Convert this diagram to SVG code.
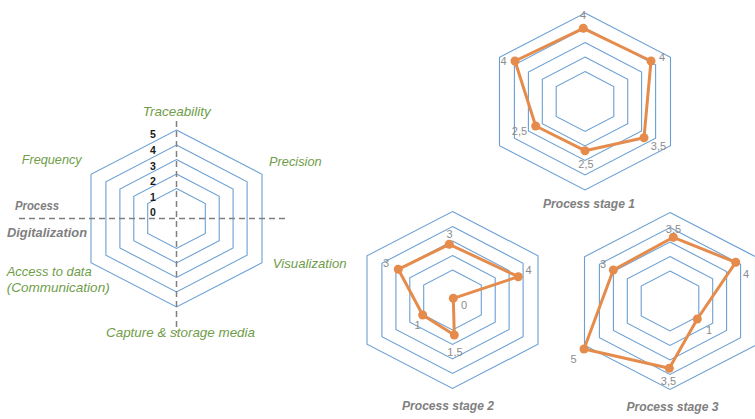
<svg xmlns="http://www.w3.org/2000/svg" width="755" height="419" viewBox="0 0 755 419">
<style>
.ring{fill:none;stroke:#6b9fd3;stroke-width:1.1}
.axis{fill:#6f9d4a;font-family:"Liberation Sans",Arial,sans-serif;font-style:italic;font-size:13px}
.dim{fill:#808080;font-family:"Liberation Sans",Arial,sans-serif;font-style:italic;font-weight:bold;font-size:12.5px}
.scale{fill:#1a1a1a;font-family:"Liberation Sans",Arial,sans-serif;font-weight:bold;font-size:10.5px;text-anchor:middle}
.dash{stroke:#808080;stroke-width:1.5;stroke-dasharray:6 4;fill:none}
.series{fill:none;stroke:#e58b4c;stroke-width:3;stroke-linejoin:round}
.dot{fill:#e58b4c}
.val{fill:#8c8c8c;font-family:"Liberation Sans",Arial,sans-serif;font-size:11px;text-anchor:middle}
.title{fill:#808080;font-family:"Liberation Sans",Arial,sans-serif;font-style:italic;font-weight:bold;font-size:12px;text-anchor:middle}
</style>
<defs>
<g id="grid">
<polygon class="ring" points="0,-30 28.8,-15 28.8,15 0,30 -28.8,15 -28.8,-15"/>
<polygon class="ring" points="0,-44.5 42.7,-22.25 42.7,22.25 0,44.5 -42.7,22.25 -42.7,-22.25"/>
<polygon class="ring" points="0,-59 56.6,-29.5 56.6,29.5 0,59 -56.6,29.5 -56.6,-29.5"/>
<polygon class="ring" points="0,-73.5 70.6,-36.75 70.6,36.75 0,73.5 -70.6,36.75 -70.6,-36.75"/>
<polygon class="ring" points="0,-88.5 85.5,-44.25 85.5,44.25 0,88.5 -85.5,44.25 -85.5,-44.25"/>
</g>
</defs>
<rect width="755" height="419" fill="#ffffff"/>

<g id="framework">
<use href="#grid" x="176.5" y="218.5"/>
<line class="dash" x1="176.5" y1="121" x2="176.5" y2="333"/>
<line class="dash" x1="19" y1="218.5" x2="287" y2="218.5"/>
<text class="scale" x="153" y="138">5</text>
<text class="scale" x="153" y="154">4</text>
<text class="scale" x="153" y="169.5">3</text>
<text class="scale" x="153" y="185">2</text>
<text class="scale" x="153" y="200.5">1</text>
<text class="scale" x="153" y="216">0</text>
<text class="axis" x="142.7" y="116" textLength="68" lengthAdjust="spacingAndGlyphs">Traceability</text>
<text class="axis" x="21.7" y="164" textLength="60" lengthAdjust="spacingAndGlyphs">Frequency</text>
<text class="axis" x="269" y="166" textLength="52.7" lengthAdjust="spacingAndGlyphs">Precision</text>
<text class="dim" x="15" y="210" textLength="44" lengthAdjust="spacingAndGlyphs">Process</text>
<text class="dim" x="7" y="237" textLength="80" lengthAdjust="spacingAndGlyphs">Digitalization</text>
<text class="axis" x="272.7" y="267.5" textLength="74" lengthAdjust="spacingAndGlyphs">Visualization</text>
<text class="axis" x="6.7" y="276" textLength="85" lengthAdjust="spacingAndGlyphs">Access to data</text>
<text class="axis" x="6.7" y="291.5" textLength="103" lengthAdjust="spacingAndGlyphs">(Communication)</text>
<text class="axis" x="106" y="336.5" textLength="149" lengthAdjust="spacingAndGlyphs">Capture &amp; storage media</text>
</g>

<g id="stage1">
<use href="#grid" x="585" y="101.5"/>
<polygon class="series" points="583.3,28.3 651,61 644,137.7 585,150.7 535.7,126 515,61"/>
<circle class="dot" cx="583.3" cy="28.3" r="4.5"/>
<circle class="dot" cx="651" cy="61" r="4.5"/>
<circle class="dot" cx="644" cy="137.7" r="4.5"/>
<circle class="dot" cx="585" cy="150.7" r="4.5"/>
<circle class="dot" cx="535.7" cy="126" r="4.5"/>
<circle class="dot" cx="515" cy="61" r="4.5"/>
<text class="val" x="583" y="19">4</text>
<text class="val" x="662" y="61">4</text>
<text class="val" x="503.5" y="65">4</text>
<text class="val" x="519.5" y="135">2,5</text>
<text class="val" x="658.5" y="150">3,5</text>
<text class="val" x="586" y="167.5">2,5</text>
<text class="title" x="589" y="208" textLength="92" lengthAdjust="spacingAndGlyphs">Process stage 1</text>
</g>

<g id="stage2">
<use href="#grid" x="452.5" y="300"/>
<polygon class="series" points="449.3,244.3 518.3,276.7 453.3,298.3 454.3,335 422.7,315 398.3,269.3"/>
<circle class="dot" cx="449.3" cy="244.3" r="4.5"/>
<circle class="dot" cx="518.3" cy="276.7" r="4.5"/>
<circle class="dot" cx="453.3" cy="298.3" r="4.5"/>
<circle class="dot" cx="454.3" cy="335" r="4.5"/>
<circle class="dot" cx="422.7" cy="315" r="4.5"/>
<circle class="dot" cx="398.3" cy="269.3" r="4.5"/>
<text class="val" x="449.5" y="237.5">3</text>
<text class="val" x="386" y="267">3</text>
<text class="val" x="528.5" y="274">4</text>
<text class="val" x="464" y="309">0</text>
<text class="val" x="417.5" y="329">1</text>
<text class="val" x="455" y="356">1,5</text>
<text class="title" x="448" y="410" textLength="92" lengthAdjust="spacingAndGlyphs">Process stage 2</text>
</g>

<g id="stage3">
<use href="#grid" x="670" y="301"/>
<polygon class="series" points="673.3,237.3 735.7,262.3 697.3,319 669.3,368.3 584,349 613.3,270"/>
<circle class="dot" cx="673.3" cy="237.3" r="4.5"/>
<circle class="dot" cx="735.7" cy="262.3" r="4.5"/>
<circle class="dot" cx="697.3" cy="319" r="4.5"/>
<circle class="dot" cx="669.3" cy="368.3" r="4.5"/>
<circle class="dot" cx="584" cy="349" r="4.5"/>
<circle class="dot" cx="613.3" cy="270" r="4.5"/>
<text class="val" x="673.5" y="232.5">3,5</text>
<text class="val" x="603" y="268">3</text>
<text class="val" x="746" y="277.5">4</text>
<text class="val" x="709" y="334">1</text>
<text class="val" x="573.5" y="362.5">5</text>
<text class="val" x="668.5" y="385">3,5</text>
<text class="title" x="672.5" y="410.5" textLength="92" lengthAdjust="spacingAndGlyphs">Process stage 3</text>
</g>
</svg>
